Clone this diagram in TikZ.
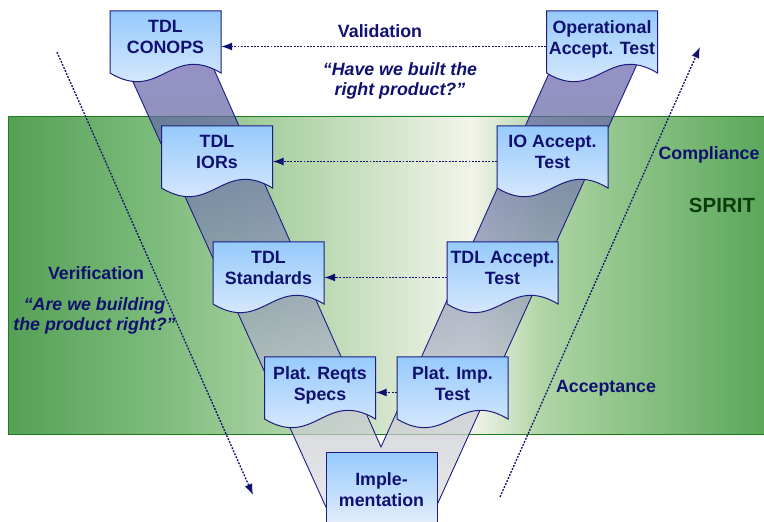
\documentclass[tikz,border=0pt]{standalone}
\usepackage{fontspec}
\setmainfont{Liberation Sans}
\usetikzlibrary{arrows.meta,calc}
\definecolor{navy}{RGB}{16,16,112}
\definecolor{edgenavy}{RGB}{28,28,130}
\definecolor{spiritgreen}{RGB}{12,60,12}
\definecolor{greenborder}{RGB}{30,125,30}
\definecolor{docTop}{RGB}{150,202,252}
\definecolor{docBot}{RGB}{232,240,252}
\definecolor{g1}{RGB}{86,160,86}
\definecolor{g2}{RGB}{122,186,122}
\definecolor{g3}{RGB}{178,213,170}
\definecolor{g4}{RGB}{243,244,234}
\definecolor{g5}{RGB}{176,213,166}
\definecolor{g6}{RGB}{90,168,90}
\definecolor{b1}{RGB}{105,102,176}
\definecolor{b2}{RGB}{100,100,165}
\definecolor{b3}{RGB}{117,124,174}
\definecolor{b4}{RGB}{150,158,185}
\definecolor{b5}{RGB}{200,202,210}
\definecolor{b6}{RGB}{225,225,225}
\pgfdeclarehorizontalshading{greenband}{100bp}{color(0bp)=(g1); color(25bp)=(g1); color(34.4bp)=(g2); color(44.3bp)=(g3); color(55.6bp)=(g4); color(60.2bp)=(g5); color(75bp)=(g6); color(100bp)=(g6)}
\pgfdeclareverticalshading{vband}{100bp}{color(0bp)=(b6); color(25bp)=(b6); color(35.1bp)=(b5); color(47.7bp)=(b4); color(58.2bp)=(b3); color(66.9bp)=(b2); color(75bp)=(b1); color(100bp)=(b1)}
\newcommand\docshape[2]{%
  \shadedraw[docstyle] ({#1-55.5},{522-#2}) -- ({#1+55.5},{522-#2}) -- ({#1+55.5},{522-#2-62})
    .. controls ({#1+5.5},{522-#2-62+30}) and ({#1-5.5},{522-#2-62-30}) .. ({#1-55.5},{522-#2-62}) -- cycle;}
\tikzset{
  docstyle/.style={top color=docTop, bottom color=docBot, draw=edgenavy, line width=1pt},
  doctext/.style={font=\bfseries\fontsize{17.8}{21}\selectfont, text=navy, align=center, inner sep=0pt, minimum width=111pt, anchor=north},
  lbl/.style={font=\bfseries\fontsize{17.8}{21}\selectfont, text=navy, inner sep=0pt, anchor=base},
  lblit/.style={font=\bfseries\itshape\fontsize{17.8}{20}\selectfont, text=navy, align=center, inner sep=0pt, anchor=north},
  varrow/.style={draw=navy, line width=1.3pt, dash pattern=on 1.9pt off 1.4pt, -{Latex[length=11pt,width=8pt]}}
}
\begin{document}
\begin{tikzpicture}[x=1pt,y=1pt]
\useasboundingbox (0,0) rectangle (764,522);
\fill[white] (0,0) rectangle (764,522);
% green SPIRIT area
\shade[shading=greenband] (8,87) rectangle (764,405);
\draw[greenborder, line width=1pt] (764,405) -- (8,405) -- (8,87) -- (764,87);
% V band
\shadedraw[shading=vband, fill opacity=0.7, draw=edgenavy, line width=0.9pt]
  (114,482) -- (201,482) -- (381,75) -- (564,482) -- (648,482) -- (432,6) -- (330,6) -- cycle;
% documents
\docshape{165.5}{11}
\docshape{602}{11}
\docshape{217}{126}
\docshape{552.5}{126}
\docshape{268.5}{242}
\docshape{502.5}{242}
\docshape{320}{357}
\docshape{452.5}{357}
\shadedraw[docstyle] (326,69) rectangle (437,-6);
% document texts
\node[doctext] (conops) at (165.5,501.8) {TDL\\CONOPS};
\node[doctext] (opacc) at (602,501.8) {Operational\\Accept. Test};
\node[doctext] (iors) at (217,386.8) {TDL\\IORs};
\node[doctext] (ioacc) at (552.5,386.8) {IO Accept.\\Test};
\node[doctext] (stds) at (268.5,270.8) {TDL\\Standards};
\node[doctext] (tdlacc) at (502.5,270.8) {TDL Accept.\\Test};
\node[doctext] (platreq) at (320,155.8) {Plat. Reqts\\Specs};
\node[doctext] (platimp) at (452.5,155.8) {Plat. Imp.\\Test};
\node[doctext] (impl) at (381.5,49.8) {Imple-\\mentation};
% horizontal arrows
\draw[varrow] ([yshift=-26.3pt]opacc.north west) -- ([yshift=-26.3pt]conops.north east);
\draw[varrow] ([yshift=-26.3pt]ioacc.north west) -- ([yshift=-26.3pt]iors.north east);
\draw[varrow] ([yshift=-26.3pt]tdlacc.north west) -- ([yshift=-26.3pt]stds.north east);
\draw[varrow] ([yshift=-26.3pt]platimp.north west) -- ([yshift=-26.3pt]platreq.north east);
% diagonal arrows
\coordinate (vstart) at (57,470);
\coordinate (vend) at (253,27);
\draw[varrow] (vstart) -- (vend);
\coordinate (astart) at (500,25);
\coordinate (aend) at (700,475);
\draw[varrow] (astart) -- (aend);
% labels
\node[lbl] (validation) at (380,484) {Validation};
\node[lblit] (q1) at (400,459.8) {“Have we built the\\right product?”};
\node[lbl] (compliance) at (709,362) {Compliance};
\node[lbl, text=spiritgreen, font=\bfseries\fontsize{20.5}{24}\selectfont] (spirit) at (722,309) {SPIRIT};
\node[lbl] (verification) at (96,242) {Verification};
\node[lblit] (q2) at (94.5,224.8) {“Are we building\\the product right?”};
\node[lbl] (acceptance) at (606,129) {Acceptance};
\end{tikzpicture}
\end{document}
